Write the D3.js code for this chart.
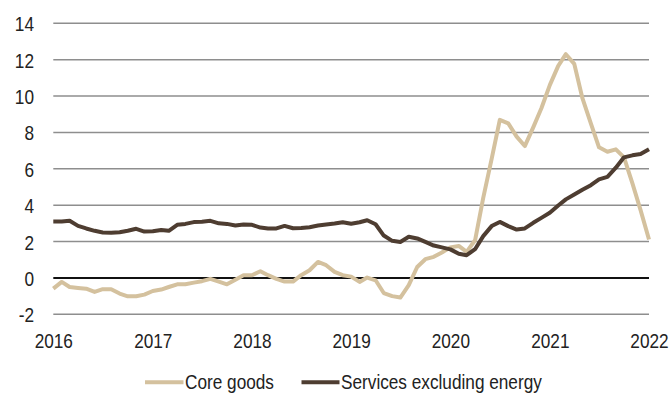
<!DOCTYPE html>
<html>
<head>
<meta charset="utf-8">
<script src="https://cdn.jsdelivr.net/npm/d3@7"></script>
<style>
  html, body { margin: 0; padding: 0; background: #fff; }
  svg text { font-family: "Liberation Sans Narrow", "Arial Narrow", "Liberation Sans", Arial, sans-serif; font-size: 21px; fill: #222; }
</style>
</head>
<body>
<svg id="chart" width="669" height="397"></svg>
<script>
// Monthly year-over-year inflation, Jan 2016 – Jan 2022 (%)
const startMonth = new Date(2016, 0, 1);
const endMonth = new Date(2022, 0, 1);

const coreGoods = [
  -0.59, -0.22, -0.50, -0.55, -0.59, -0.77, -0.62, -0.62, -0.86, -1.01, -1.01, -0.92,
  -0.72, -0.64, -0.50, -0.35, -0.35, -0.26, -0.18, -0.05, -0.20, -0.35, -0.10, 0.15,
  0.15, 0.37, 0.15, -0.05, -0.20, -0.20, 0.15, 0.42, 0.88, 0.70, 0.33, 0.15,
  0.07, -0.22, 0.02, -0.13, -0.83, -1.00, -1.08, -0.40, 0.60, 1.03, 1.16, 1.40,
  1.68, 1.76, 1.43, 2.07, 4.40, 6.55, 8.69, 8.50, 7.77, 7.25, 8.28, 9.33,
  10.60, 11.66, 12.30, 11.77, 9.88, 8.50, 7.18, 6.94, 7.07, 6.63, 5.20, 3.73,
  2.11
];

const servicesExEnergy = [
  3.10, 3.10, 3.14, 2.86, 2.72, 2.59, 2.50, 2.48, 2.51, 2.59, 2.70, 2.55,
  2.57, 2.64, 2.59, 2.92, 2.97, 3.07, 3.09, 3.14, 3.00, 2.97, 2.88, 2.94,
  2.92, 2.77, 2.72, 2.72, 2.86, 2.73, 2.75, 2.79, 2.88, 2.94, 2.99, 3.06,
  2.98, 3.06, 3.17, 2.95, 2.33, 2.04, 1.98, 2.26, 2.17, 1.98, 1.78, 1.68,
  1.57, 1.33, 1.25, 1.58, 2.30, 2.85, 3.08, 2.85, 2.66, 2.72, 3.03, 3.30,
  3.58, 3.98, 4.32, 4.59, 4.85, 5.10, 5.42, 5.56, 6.06, 6.63, 6.74, 6.81,
  7.07
];

const yTicks = [-2, 0, 2, 4, 6, 8, 10, 12, 14];
const xTickYears = [2016, 2017, 2018, 2019, 2020, 2021, 2022];

const seriesNames = ["Core goods", "Services excluding energy"];
const seriesColors = ["#d4c19e", "#4e3d31"];

// Horizontal squeeze giving the condensed look of the label face
const narrow = "scale(0.82,1)";

const months = d3.timeMonth.range(startMonth, d3.timeMonth.offset(endMonth, 1));

const svg = d3.select("#chart");

const x = d3.scaleTime()
  .domain([startMonth, endMonth])
  .range([53.3, 649]);

const y = d3.scaleLinear()
  .domain([-2, 14])
  .range([314.3, 23.3]);

// Horizontal gridlines
svg.append("g")
  .selectAll("line")
  .data(yTicks)
  .join("line")
  .attr("x1", x.range()[0])
  .attr("x2", x.range()[1])
  .attr("y1", d => y(d))
  .attr("y2", d => y(d))
  .attr("stroke", d => d === 0 ? "#111" : "#8e8e8e")
  .attr("stroke-width", d => d === 0 ? 2 : 1.5);

// Y axis labels
const yAxis = d3.axisLeft(y).tickValues(yTicks).tickSize(0).tickPadding(0)
  .tickFormat(d => String(d));
svg.append("g")
  .attr("transform", "translate(34,0)")
  .call(yAxis)
  .call(g => g.select(".domain").remove())
  .call(g => g.selectAll("text")
    .attr("x", 0)
    .attr("dy", "0.36em")
    .attr("transform", narrow)
    .attr("font-family", null).attr("font-size", null));

// X axis labels
const xAxis = d3.axisBottom(x)
  .tickValues(xTickYears.map(yr => new Date(yr, 0, 1)))
  .tickSize(0).tickPadding(0)
  .tickFormat(d3.timeFormat("%Y"));
svg.append("g")
  .attr("transform", "translate(0,347.5)")
  .call(xAxis)
  .call(g => g.select(".domain").remove())
  .call(g => g.selectAll("text")
    .attr("dy", "0")
    .attr("y", 0)
    .attr("transform", narrow)
    .attr("font-family", null).attr("font-size", null));

// Series lines
const line = d3.line()
  .x((d, i) => x(months[i]))
  .y(d => y(d))
  .curve(d3.curveLinear);

[coreGoods, servicesExEnergy].forEach((vals, k) => {
  svg.append("path")
    .datum(vals)
    .attr("fill", "none")
    .attr("stroke", seriesColors[k])
    .attr("stroke-width", 4)
    .attr("stroke-linejoin", "round")
    .attr("d", line);
});

// Legend
const legendItems = [
  { x0: 145, x1: 183.5, tx: 185 },
  { x0: 301.5, x1: 339.5, tx: 341 }
];
const legend = svg.append("g");
legendItems.forEach((it, k) => {
  legend.append("line")
    .attr("x1", it.x0).attr("x2", it.x1)
    .attr("y1", 382.3).attr("y2", 382.3)
    .attr("stroke", seriesColors[k])
    .attr("stroke-width", 4);
  legend.append("text")
    .attr("transform", `translate(${it.tx},388.5) ${narrow}`)
    .text(seriesNames[k]);
});
</script>
</body>
</html>
